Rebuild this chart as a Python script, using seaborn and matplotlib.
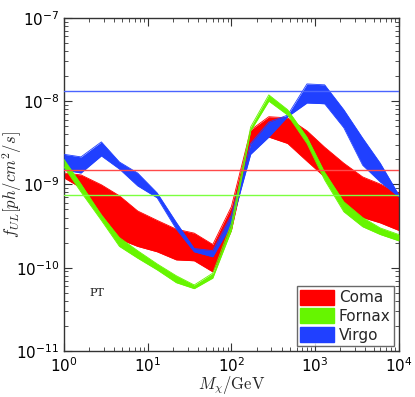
import matplotlib
matplotlib.use("Agg")
import matplotlib.pyplot as plt
import seaborn as sns
import numpy as np
import pandas as pd
from matplotlib.patches import Patch

# dark matter masses (GeV)
mass = [1, 1.6, 2.8, 4.6, 7.6, 13, 22, 36, 60, 100, 170, 280, 470, 800,
        1300, 2200, 3700, 6000, 10000]

# upper limits, band edges (ph/cm^2/s)
coma_hi = [1.37e-9, 1.30e-9, 9.9e-10, 7.3e-10, 4.8e-10, 3.7e-10, 2.9e-10, 2.6e-10,
           1.9e-10, 5.4e-10, 4.5e-9, 6.5e-9, 6.3e-9, 4.4e-9, 2.8e-9, 1.8e-9,
           1.23e-9, 1.01e-9, 7.9e-10]
coma_lo = [1.20e-9, 9.1e-10, 4.4e-10, 2.2e-10, 1.8e-10, 1.55e-10, 1.24e-10, 1.21e-10,
           8.9e-11, 2.8e-10, 3.1e-9, 3.7e-9, 3.1e-9, 1.9e-9, 1.23e-9, 5.7e-10,
           4.0e-10, 3.45e-10, 2.8e-10]
fornax_hi = [2.0e-9, 1.01e-9, 4.3e-10, 2.3e-10, 1.6e-10, 1.11e-10, 8.0e-11, 6.2e-11,
             8.6e-11, 3.4e-10, 4.9e-9, 1.19e-8, 7.9e-9, 3.7e-9, 1.4e-9, 6.2e-10,
             4.0e-10, 3.0e-10, 2.5e-10]
fornax_lo = [1.62e-9, 8.1e-10, 3.7e-10, 1.8e-10, 1.3e-10, 9.4e-11, 6.6e-11, 5.6e-11,
             7.5e-11, 2.8e-10, 4.4e-9, 1.0e-8, 6.8e-9, 3.1e-9, 1.13e-9, 4.7e-10,
             3.1e-10, 2.5e-10, 2.1e-10]
virgo_hi = [2.3e-9, 2.14e-9, 3.24e-9, 1.86e-9, 1.37e-9, 7.9e-10, 3.5e-10, 1.7e-10,
            1.6e-10, 4.3e-10, 3.1e-9, 5.6e-9, 6.8e-9, 1.61e-8, 1.57e-8, 7.9e-9,
            3.6e-9, 1.8e-9, 7.5e-10]
virgo_lo = [1.49e-9, 1.37e-9, 2.2e-9, 1.53e-9, 9.6e-10, 6.9e-10, 2.9e-10, 1.55e-10,
            1.35e-10, 3.3e-10, 2.3e-9, 3.7e-9, 6.5e-9, 9.5e-9, 9.3e-9, 4.8e-9,
            1.7e-9, 1.07e-9, 7.1e-10]

# flux limits from the cluster observations (horizontal lines)
limits = {"Coma": 1.49e-9, "Fornax": 7.4e-10, "Virgo": 1.34e-8}

names = ["Coma", "Fornax", "Virgo"]
band_colors = {"Coma": "#ff0000", "Fornax": "#66f500", "Virgo": "#2040ff"}
line_colors = {"Coma": "#ff4a4a", "Fornax": "#7cff40", "Virgo": "#4a64ff"}

df = pd.DataFrame({"mass": mass,
                   "Coma_hi": coma_hi, "Coma_lo": coma_lo,
                   "Fornax_hi": fornax_hi, "Fornax_lo": fornax_lo,
                   "Virgo_hi": virgo_hi, "Virgo_lo": virgo_lo})

sns.set_theme(style="ticks")
plt.rcParams["mathtext.fontset"] = "cm"
plt.rcParams["font.family"] = ["DejaVu Sans"]

fig, ax = plt.subplots(figsize=(4.15, 3.97), dpi=100)
fig.subplots_adjust(left=0.154, right=0.961, bottom=0.116, top=0.955)

# draw order: Coma, Virgo, Fornax on top
for name, z in [("Coma", 2), ("Virgo", 3), ("Fornax", 4)]:
    c = band_colors[name]
    ax.fill_between(df["mass"], df[name + "_lo"], df[name + "_hi"],
                    color=c, lw=0, zorder=z)
    sns.lineplot(data=df, x="mass", y=name + "_hi", color=c, lw=0.6, ax=ax, zorder=z)
    sns.lineplot(data=df, x="mass", y=name + "_lo", color=c, lw=0.6, ax=ax, zorder=z)

for name in names:
    ax.axhline(limits[name], color=line_colors[name], lw=1.0, zorder=5)

ax.set_xscale("log")
ax.set_yscale("log")
ax.set_xlim(1, 1e4)
ax.set_ylim(1e-11, 1e-7)

ax.tick_params(which="both", direction="in", top=True, right=True,
               labelsize=11, colors="#333333", labelcolor="black")
ax.tick_params(which="major", length=6, width=0.8)
ax.tick_params(which="minor", length=3, width=0.6)
for s in ax.spines.values():
    s.set_color("#333333")
    s.set_linewidth(1.0)

ax.set_xlabel(r"$M_{\chi}/\mathrm{GeV}$", fontsize=12)
ax.set_ylabel(r"$f_{UL}[ph/cm^2/s]$", fontsize=12)
ax.xaxis.set_label_coords(0.5, -0.07)
ax.yaxis.set_label_coords(-0.12, 0.5)

ax.text(2.0, 5.0e-11, "PT", fontsize=8, family="DejaVu Serif",
        ha="left", va="center", color="#222222")

handles = [Patch(facecolor=band_colors[n], edgecolor=band_colors[n], label=n) for n in names]
leg = ax.legend(handles=handles, loc="lower right", fontsize=11, frameon=True,
                fancybox=False, borderpad=0.25, labelspacing=0.2,
                handlelength=2.2, handleheight=1.1, handletextpad=0.3,
                borderaxespad=0.3)
leg.get_frame().set_edgecolor("#444444")
leg.get_frame().set_linewidth(1.0)
leg.set_zorder(10)

fig.savefig("out.png", dpi=100)
